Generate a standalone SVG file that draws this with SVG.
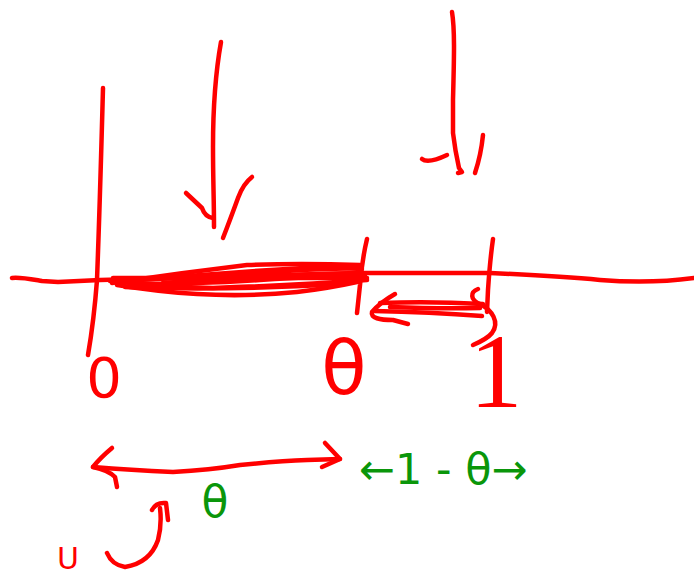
<svg xmlns="http://www.w3.org/2000/svg" width="694" height="579" viewBox="0 0 694 579">
<style>
.s{fill:none;stroke:#ff0000;stroke-width:4.5;stroke-linecap:round;stroke-linejoin:round}
.r{fill:#ff0000;font-family:"DejaVu Sans","Liberation Sans",sans-serif}
.g{fill:#0a960a;font-family:"DejaVu Sans","Liberation Sans",sans-serif}
</style>
<rect width="694" height="579" fill="#ffffff"/>
<g id="axis">
<path class="s" d="M12,278 C20,277 30,279 42,281 L58,282 Q80,281 100,280 L360,273 L490,273 Q560,276 600,280 Q650,284 694,278"/>
<path class="s" d="M103,88 Q100,200 97,280 Q94,320 88,355"/>
<path class="s" d="M367,239 Q362,260 360,285 L357,313"/>
<path class="s" d="M493,239 Q490,260 488,290 L487,312"/>
</g>
<g id="shaded-interval">
<path class="s" d="M112,283 Q180,273 247,265 Q300,263 360,265"/>
<path class="s" d="M113,278 L367,278"/>
<path class="s" d="M117,285 Q160,292 197,294 Q247,297 297,292 Q330,288 357,282"/>
<path class="s" d="M120,282 Q170,287 213,288 Q300,285 367,280"/>
<path class="s" d="M163,283 Q260,275 360,273"/>
<path class="s" d="M110,281 Q200,278 300,270 L358,268"/>
<path class="s" d="M125,287 Q220,291 340,284"/>
<path class="s" d="M140,280 Q230,272 320,267 L362,269"/>
<path class="s" d="M130,284 Q200,284 260,280 Q320,276 365,276"/>
</g>
<g id="arrow-down-left">
<path class="s" d="M221,42 C216,70 213,100 213,147 C213,180 214,200 214,227"/>
<path class="s" d="M186,193 L202,208 Q205,217 213,218"/>
<path class="s" d="M252,177 Q243,184 238,198 Q230,220 223,238"/>
</g>
<g id="arrow-down-right">
<path class="s" d="M452,12 C455,30 454,60 453,100 L453,133 Q455,150 459,168 L462,172 L458,173"/>
<path class="s" d="M422,159 Q428,164 447,155"/>
<path class="s" d="M483,135 Q481,155 475,173"/>
</g>
<g id="span-theta-1">
<path class="s" d="M395,294 C388,298 378,305 372,312 C370,318 380,320 393,320 L408,324"/>
<path class="s" d="M380,303 Q430,301 483,304"/>
<path class="s" d="M374,311 Q430,312 482,316"/>
<path class="s" d="M390,307 Q440,309 480,308"/>
<path class="s" d="M478,289 C470,292 470,300 480,304 C492,310 500,322 492,333 C488,338 480,342 473,345"/>
</g>
<g id="span-0-theta">
<path class="s" d="M93,467 Q130,470 173,472 Q210,470 240,465 Q280,461 307,460 L340,459"/>
<path class="s" d="M112,448 Q100,458 93,467 Q108,470 115,477 L117,487"/>
<path class="s" d="M325,443 L340,459 L322,467"/>
</g>
<g id="curved-arrow">
<path class="s" d="M107,553 Q112,565 125,567 Q150,563 158,540 Q162,525 160,508"/>
<path class="s" d="M152,510 Q156,502 166,503 L168,520"/>
</g>
<g id="labels">
<text class="r" x="104" y="397" font-size="56" text-anchor="middle">0</text>
<text class="r" x="344" y="394" font-size="74" text-anchor="middle">θ</text>
<text class="r" x="496" y="407" font-size="106" text-anchor="middle" style="font-family:'Liberation Serif',serif">1</text>
<text class="g" x="215" y="517" font-size="44" text-anchor="middle">θ</text>
<text class="g" x="359" y="484" font-size="43">←1 - θ→</text>
<text class="r" x="68" y="569" font-size="30" text-anchor="middle">U</text>
</g>
</svg>
